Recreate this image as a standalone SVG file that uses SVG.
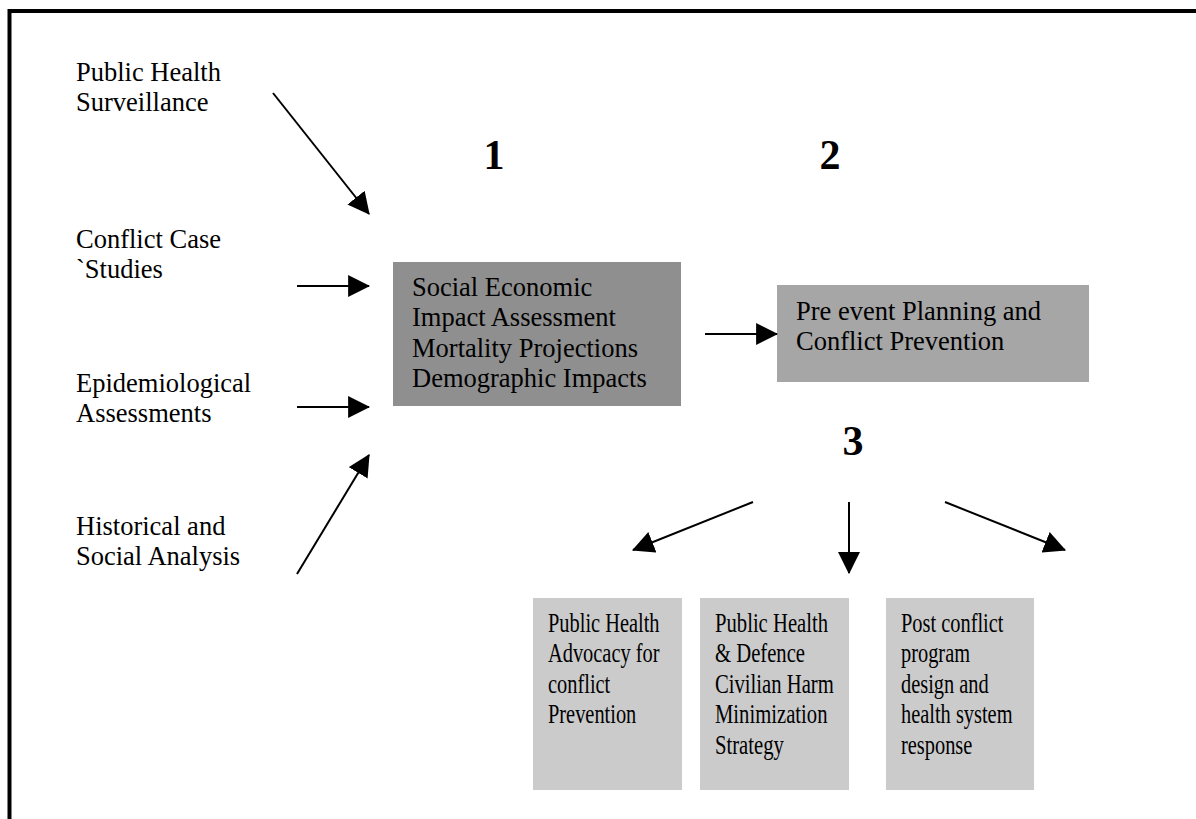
<svg xmlns="http://www.w3.org/2000/svg" width="1196" height="819" viewBox="0 0 1196 819">
<style>
text{font-family:"Liberation Serif","Times New Roman",serif;font-size:26.5px;fill:#000}
.num{font-size:42px;font-weight:bold;text-anchor:middle}
.c{stroke:#000;stroke-width:2;fill:none;marker-end:url(#ah)}
.out{fill:#cbcbcb}
</style>
<defs>
<marker id="ah" markerUnits="userSpaceOnUse" markerWidth="22" markerHeight="22" refX="19" refY="10" orient="auto" viewBox="0 0 20 20">
<path d="M0,0 L20,10 L0,20 z" fill="#000"/>
</marker>
</defs>
<rect width="1196" height="819" fill="#fff"/>
<path d="M9.5,819 V11 H1196" fill="none" stroke="#000" stroke-width="4"/>
<g id="in1"><text x="76" y="81">Public Health</text><text x="76" y="111">Surveillance</text></g>
<g id="in2"><text x="76" y="248">Conflict Case</text><text x="76" y="278">`Studies</text></g>
<g id="in3"><text x="76" y="392">Epidemiological</text><text x="76" y="422">Assessments</text></g>
<g id="in4"><text x="76" y="535">Historical and</text><text x="76" y="565">Social Analysis</text></g>
<g id="labels">
<text class="num" x="494" y="169">1</text>
<text class="num" x="830" y="169">2</text>
<text class="num" x="853" y="455">3</text>
</g>
<g id="assess">
<rect x="393" y="262" width="288" height="144" fill="#8f8f8f"/>
<text x="412" y="296">Social Economic</text>
<text x="412" y="326">Impact Assessment</text>
<text x="412" y="357">Mortality Projections</text>
<text x="412" y="387">Demographic Impacts</text>
</g>
<g id="plan">
<rect x="777" y="285" width="312" height="97" fill="#a6a6a6"/>
<text x="796" y="320">Pre event Planning and</text>
<text x="796" y="350">Conflict Prevention</text>
</g>
<g id="advocacy">
<rect class="out" x="533" y="598" width="149" height="192"/>
<g transform="translate(548 0) scale(0.77 1)">
<text x="0" y="632">Public Health</text>
<text x="0" y="662">Advocacy for</text>
<text x="0" y="693">conflict</text>
<text x="0" y="723">Prevention</text>
</g>
</g>
<g id="defence">
<rect class="out" x="700" y="598" width="149" height="192"/>
<g transform="translate(715 0) scale(0.78 1)">
<text x="0" y="632">Public Health</text>
<text x="0" y="662">&amp; Defence</text>
<text x="0" y="693">Civilian Harm</text>
<text x="0" y="723">Minimization</text>
<text x="0" y="754">Strategy</text>
</g>
</g>
<g id="postconflict">
<rect class="out" x="886" y="598" width="148" height="192"/>
<g transform="translate(901 0) scale(0.77 1)">
<text x="0" y="632">Post conflict</text>
<text x="0" y="662">program</text>
<text x="0" y="693">design and</text>
<text x="0" y="723">health system</text>
<text x="0" y="754">response</text>
</g>
</g>
<g id="connectors">
<line class="c" x1="273" y1="93" x2="369" y2="214"/>
<line class="c" x1="297" y1="286" x2="369" y2="286"/>
<line class="c" x1="297" y1="407" x2="369" y2="407"/>
<line class="c" x1="297" y1="574" x2="369" y2="455"/>
<line class="c" x1="705" y1="334" x2="777" y2="334"/>
<line class="c" x1="753" y1="502" x2="633" y2="550"/>
<line class="c" x1="849" y1="502" x2="849" y2="573"/>
<line class="c" x1="945" y1="502" x2="1065" y2="550"/>
</g>
</svg>
